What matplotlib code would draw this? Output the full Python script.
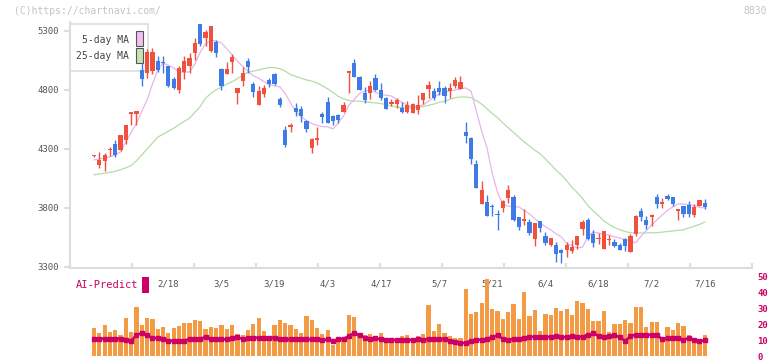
import matplotlib
matplotlib.use('Agg')
import matplotlib.pyplot as plt
from matplotlib.patches import Rectangle
import numpy as np

plt.rcParams['font.family'] = 'DejaVu Sans Mono'

# daily candles, Jan 28 .. Jul 16
opens = [4238, 4164, 4198, 4288, 4342, 4292, 4376, 4600, 4597, 4970,
         4944, 4961, 5046, 5040, 5003, 4893, 4800, 4950, 5003, 5110,
         5357, 5238, 5133, 5204, 4975, 4933, 5040, 4772, 4879, 5046,
         4851, 4673, 4764, 4885, 4933, 4721, 4461, 4490, 4650, 4639,
         4537, 4311, 4380, 4597, 4698, 4580, 4588, 4616, 4945, 5031,
         4912, 4777, 4777, 4899, 4800, 4735, 4679, 4679, 4650, 4616,
         4608, 4631, 4715, 4808, 4791, 4817, 4817, 4794, 4836, 4808,
         4446, 4396, 4173, 3834, 3853, 3812, 3745, 3803, 3888, 3896,
         3721, 3690, 3678, 3537, 3690, 3563, 3486, 3486, 3444, 3444,
         3436, 3486, 3622, 3698, 3580, 3535, 3452, 3526, 3515, 3486,
         3537, 3430, 3580, 3775, 3698, 3724, 3896, 3834, 3902, 3896,
         3774, 3820, 3825, 3741, 3817, 3840]
highs = [4250, 4275, 4262, 4317, 4376, 4420, 4505, 4614, 4625, 5029,
         5147, 5156, 5085, 5085, 5005, 4913, 5003, 5085, 5110, 5238,
         5357, 5309, 5345, 5224, 4984, 5040, 5105, 4820, 4998, 5069,
         4870, 4830, 4842, 4900, 4941, 4743, 4495, 4520, 4688, 4660,
         4546, 4396, 4482, 4616, 4738, 4588, 4597, 4701, 4950, 5060,
         4918, 4828, 4876, 4933, 4862, 4743, 4721, 4732, 4701, 4707,
         4687, 4758, 4777, 4879, 4817, 4879, 4830, 4857, 4913, 4918,
         4531, 4404, 4207, 4031, 3911, 3834, 3783, 3868, 3995, 3911,
         3726, 3791, 3707, 3670, 3690, 3599, 3549, 3515, 3452, 3509,
         3529, 3563, 3698, 3718, 3613, 3591, 3605, 3571, 3537, 3506,
         3543, 3580, 3741, 3797, 3732, 3747, 3916, 3882, 3919, 3896,
         3791, 3820, 3859, 3834, 3868, 3876]
lows = [4232, 4135, 4113, 4240, 4235, 4284, 4342, 4503, 4503, 4830,
        4902, 4936, 4955, 4940, 4822, 4810, 4777, 4890, 4940, 5054,
        5173, 5175, 5125, 5082, 4800, 4933, 4940, 4679, 4834, 4947,
        4738, 4673, 4738, 4828, 4842, 4654, 4315, 4440, 4580, 4532,
        4447, 4269, 4334, 4518, 4518, 4503, 4518, 4616, 4772, 4912,
        4800, 4687, 4724, 4794, 4715, 4639, 4664, 4645, 4602, 4602,
        4602, 4594, 4679, 4735, 4715, 4758, 4687, 4730, 4815, 4806,
        4348, 4170, 3972, 3834, 3735, 3735, 3613, 3764, 3845, 3690,
        3613, 3656, 3571, 3480, 3599, 3486, 3480, 3345, 3334, 3387,
        3416, 3450, 3571, 3529, 3472, 3493, 3452, 3486, 3472, 3440,
        3436, 3430, 3563, 3692, 3619, 3650, 3803, 3803, 3868, 3817,
        3698, 3726, 3724, 3721, 3817, 3791]
closes = [4245, 4207, 4249, 4295, 4250, 4419, 4503, 4608, 4622, 4893,
          5122, 5122, 4970, 5029, 4834, 4815, 4988, 5046, 5068, 5196,
          5187, 5289, 5345, 5111, 4834, 4975, 5082, 4820, 4941, 4992,
          4786, 4790, 4820, 4848, 4848, 4673, 4334, 4500, 4616, 4582,
          4470, 4385, 4387, 4574, 4523, 4537, 4546, 4673, 4950, 4912,
          4800, 4715, 4834, 4800, 4735, 4639, 4696, 4715, 4611, 4673,
          4681, 4673, 4777, 4842, 4730, 4783, 4752, 4817, 4885, 4865,
          4410, 4215, 3972, 3953, 3735, 3805, 3738, 3859, 3953, 3698,
          3641, 3707, 3590, 3670, 3628, 3501, 3543, 3407, 3416, 3486,
          3466, 3563, 3678, 3537, 3506, 3541, 3605, 3532, 3481, 3444,
          3481, 3563, 3732, 3727, 3656, 3730, 3834, 3853, 3876, 3834,
          3791, 3749, 3749, 3811, 3868, 3811]

ma5 = [4207, 4215, 4225, 4232, 4250, 4275, 4359, 4440, 4520, 4620,
       4715, 4850, 4970, 5029, 5010, 4987, 4953, 4950, 4953, 5020,
       5120, 5190, 5220, 5215, 5198, 5150, 5097, 5045, 5000, 4960,
       4920, 4900, 4870, 4845, 4835, 4826, 4770, 4690, 4615, 4575,
       4540, 4515, 4500, 4490, 4487, 4470, 4520, 4580, 4670, 4720,
       4770, 4790, 4800, 4780, 4760, 4755, 4749, 4720, 4695, 4670,
       4656, 4662, 4673, 4705, 4741, 4765, 4780, 4792, 4800, 4810,
       4817, 4790, 4620, 4450, 4309, 4090, 3930, 3830, 3815, 3810,
       3809, 3780, 3749, 3710, 3673, 3640, 3614, 3580, 3554, 3500,
       3480, 3461, 3468, 3560, 3595, 3588, 3578, 3570, 3555, 3546,
       3530, 3520, 3505, 3560, 3610, 3656, 3700, 3741, 3780, 3809,
       3834, 3832, 3828, 3820, 3805, 3800]
ma25 = [4080, 4088, 4095, 4102, 4110, 4125, 4140, 4160, 4200, 4250,
        4300, 4350, 4400, 4425, 4450, 4475, 4505, 4535, 4560, 4610,
        4660, 4730, 4770, 4800, 4825, 4850, 4870, 4895, 4925, 4950,
        4960, 4970, 4980, 4990, 4990, 4980, 4960, 4930, 4915, 4900,
        4885, 4875, 4860, 4835, 4810, 4780, 4745, 4725, 4710, 4705,
        4705, 4700, 4695, 4690, 4685, 4675, 4665, 4655, 4650, 4648,
        4648, 4650, 4660, 4670, 4680, 4695, 4705, 4720, 4735, 4740,
        4740, 4735, 4710, 4680, 4640, 4600, 4565, 4520, 4480, 4440,
        4400, 4360, 4325, 4290, 4260, 4215, 4170, 4120, 4080, 4030,
        3975, 3930, 3880, 3820, 3775, 3735, 3690, 3660, 3635, 3615,
        3600, 3590, 3588, 3588, 3588, 3590, 3590, 3595, 3600, 3605,
        3610, 3615, 3630, 3645, 3660, 3680]

volume = [17.8, 14.7, 19.7, 15.3, 16.6, 13.4, 24.1, 15.3, 30.9, 19.7,
          24.1, 23.4, 17.2, 18.4, 14.7, 17.8, 19.1, 20.9, 20.9, 22.8,
          22.2, 17.2, 18.4, 17.8, 19.7, 17.2, 19.7, 14.0, 13.4, 16.6,
          20.3, 24.1, 16.1, 12.0, 19.7, 22.8, 20.9, 19.7, 17.2, 14.7,
          25.3, 22.8, 17.8, 14.1, 16.6, 7.2, 10.3, 10.9, 25.9, 24.7,
          14.7, 13.4, 14.1, 12.8, 14.7, 11.6, 10.9, 10.3, 12.8, 13.4,
          10.9, 12.8, 14.1, 32.2, 16.1, 20.3, 14.7, 12.8, 11.6, 11.6,
          42.2, 26.6, 28.0, 33.6, 48.9, 29.7, 28.4, 23.4, 28.0, 33.0,
          23.4, 40.3, 25.3, 29.1, 16.1, 26.6, 25.9, 30.3, 28.4, 29.7,
          26.0, 34.7, 33.6, 29.7, 22.2, 22.2, 28.4, 15.3, 20.3, 20.3,
          22.8, 20.9, 30.9, 30.9, 18.4, 21.6, 21.6, 12.0, 18.4, 16.6,
          20.9, 19.1, 13.4, 9.7, 9.7, 13.1]
ai_predict = [11.0, 11.0, 11.0, 11.0, 11.0, 11.0, 10.2, 9.5, 13.4, 14.5,
              13.0, 11.4, 11.4, 10.8, 9.8, 9.6, 9.2, 9.8, 10.8, 10.5,
              11.0, 12.0, 11.0, 10.6, 10.5, 10.6, 11.4, 11.8, 10.8, 11.5,
              11.6, 11.6, 11.6, 11.6, 11.6, 11.0, 10.5, 10.5, 10.5, 10.5,
              10.5, 10.5, 10.5, 10.0, 10.5, 9.6, 10.5, 11.0, 12.5, 14.7,
              13.0, 11.5, 10.9, 11.2, 10.6, 10.3, 10.3, 10.0, 10.3, 9.9,
              10.3, 10.5, 10.3, 11.0, 11.0, 11.0, 10.5, 9.5, 8.8, 8.1,
              8.4, 9.8, 10.3, 10.3, 10.5, 12.3, 13.0, 10.8, 10.3, 10.9,
              11.0, 11.5, 12.2, 12.2, 12.2, 12.2, 12.0, 12.5, 12.2, 11.8,
              12.6, 12.2, 12.2, 13.5, 14.3, 12.8, 12.0, 12.5, 13.0, 12.0,
              9.5, 12.5, 13.6, 13.6, 13.6, 13.3, 13.3, 10.5, 11.2, 11.1,
              11.2, 10.4, 11.3, 10.0, 9.3, 10.0]

date_labels = ['2/18', '3/5', '3/19', '4/3', '4/17', '5/7', '5/21',
               '6/4', '6/18', '7/2', '7/16']
date_pos = [14, 24, 34, 44, 54, 65, 75, 85, 95, 105, 115]
price_ticks = [3300, 3800, 4300, 4800, 5300]
ai_ticks = [0, 10, 20, 30, 40, 50]

W, H = 772, 361
def fx(px):
    return px / W
def fy(py):
    return 1 - py / H

fig = plt.figure(figsize=(W / 100, H / 100), dpi=100)
fig.patch.set_facecolor('white')

RED = '#F0503C'
BLUE = '#3E7BE6'
GRID = '#DDDDDD'
MAG = '#CC0066'
TXT = '#555555'

x = np.arange(len(closes))
xmin, xmax = -4.52, 123.9

# price panel
ax = fig.add_axes([fx(70), fy(268), fx(752) - fx(70), fy(22) - fy(268)])
ax.set_xlim(xmin, xmax)
ax.set_ylim(3291, 5376)
for s in ['top', 'right']:
    ax.spines[s].set_visible(False)
for s in ['left', 'bottom']:
    ax.spines[s].set_color(GRID)
    ax.spines[s].set_linewidth(1.5)

ax.plot(x, ma25, color='#B4DCA8', lw=0.9, zorder=2)
ax.plot(x, ma5, color='#E8B4EC', lw=0.9, zorder=2)

o = np.array(opens)
c = np.array(closes)
colors = [RED if cc >= oo else BLUE for oo, cc in zip(o, c)]
ax.vlines(x, lows, highs, colors=colors, lw=1.0, zorder=3)
bottoms = np.minimum(o, c)
heights = np.maximum(np.abs(c - o), 12)
ax.bar(x, heights, bottom=bottoms, width=0.8, color=colors, zorder=4)

ax.set_yticks(price_ticks)
ax.set_yticklabels([str(t) for t in price_ticks])
ax.tick_params(axis='y', direction='out', length=4, width=1.5, color=GRID,
               labelsize=6.5, labelcolor=TXT, pad=4)
ax.set_xticks(date_pos)
ax.set_xticklabels(date_labels)
ax.tick_params(axis='x', which='major', length=0, labelsize=6.5,
               labelcolor=TXT, pad=8)
ax.set_xticks(np.linspace(xmin, xmax, 12), minor=True)
ax.tick_params(axis='x', which='minor', direction='in', length=3.5,
               width=1.5, color=GRID)

# legend box (under the candles)
ax.add_patch(Rectangle((fx(70), fy(71)), fx(148) - fx(70), fy(24) - fy(71),
                       transform=fig.transFigure, facecolor='white',
                       edgecolor=GRID, lw=1.2, zorder=1, clip_on=False))
ax.text(fx(129), fy(40), '5-day MA', transform=fig.transFigure, ha='right',
        va='center', fontsize=7, color='#444444', zorder=1.5)
ax.text(fx(129), fy(56), '25-day MA', transform=fig.transFigure, ha='right',
        va='center', fontsize=7, color='#444444', zorder=1.5)
ax.add_patch(Rectangle((fx(136), fy(46)), fx(143) - fx(136), fy(31) - fy(46),
                       transform=fig.transFigure, facecolor='#F0C0F0',
                       edgecolor='#555555', lw=0.8, zorder=1.5, clip_on=False))
ax.add_patch(Rectangle((fx(136), fy(63)), fx(143) - fx(136), fy(48) - fy(63),
                       transform=fig.transFigure, facecolor='#C4E4B8',
                       edgecolor='#555555', lw=0.8, zorder=1.5, clip_on=False))

# AI-Predict panel
bx = fig.add_axes([fx(70), fy(356), fx(752) - fx(70), fy(277) - fy(356)])
bx.set_xlim(xmin, xmax)
bx.set_ylim(0, 50)
bx.patch.set_alpha(0)
for s in bx.spines.values():
    s.set_visible(False)
bx.bar(x, volume, width=0.8, color='#F29A44', zorder=2)
bx.plot(x, ai_predict, color=MAG, lw=1.8, marker='s', markersize=2.5, zorder=3)
bx.set_xticks([])
bx.yaxis.tick_right()
bx.set_yticks(ai_ticks)
bx.set_yticklabels([str(t) for t in ai_ticks])
bx.tick_params(axis='y', length=0, labelsize=6.5, labelcolor=MAG, pad=4)
for lab in bx.get_yticklabels():
    lab.set_fontweight('bold')

fig.text(fx(76), fy(285), 'AI-Predict', color=MAG, fontsize=7.5, va='center')
fig.patches.append(Rectangle((fx(142), fy(293)), fx(149) - fx(142),
                             fy(277) - fy(293), transform=fig.transFigure,
                             facecolor=MAG, edgecolor='none'))

fig.text(fx(14), fy(11), '(C)https://chartnavi.com/', color='#C4C4C4',
         fontsize=7, va='center')
fig.text(fx(767), fy(11), '8830', color='#C4C4C4', fontsize=7,
         va='center', ha='right')

fig.savefig('out.png', dpi=100)
